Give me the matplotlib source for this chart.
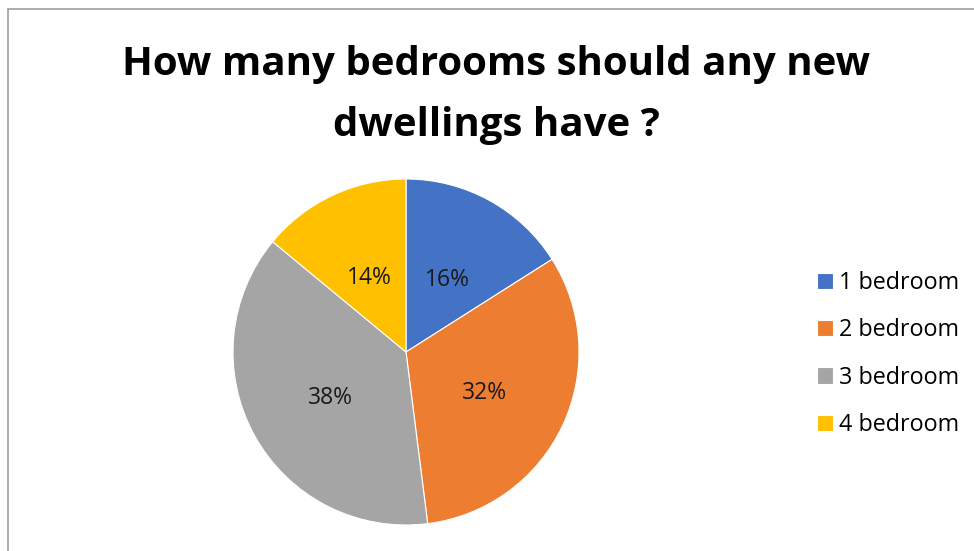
import matplotlib
matplotlib.use('Agg')
import matplotlib.pyplot as plt
from matplotlib.patches import Rectangle
from matplotlib.transforms import offset_copy

# Data
labels = ['1 bedroom', '2 bedroom', '3 bedroom', '4 bedroom']
shares = [16, 32, 38, 14]
colors = ['#4472C4', '#ED7D31', '#A5A5A5', '#FFC000']
title = 'How many bedrooms should any new\ndwellings have ?'

plt.rcParams['font.family'] = ['Open Sans', 'DejaVu Sans']

W, H = 974, 551
fig = plt.figure(figsize=(W / 100, H / 100), dpi=100)

# chart border (only left and top edges visible in the reference)
fig.patches.append(Rectangle((8 / W, -0.1), 1.2, 1 - 9 / H + 0.1,
                             transform=fig.transFigure, fill=False,
                             edgecolor='#A0A0A0', linewidth=1.2))

# pie axes: centre (406, 352), radius 173 px
cx, cy, r = 406, 352, 173
ax = fig.add_axes([(cx - r) / W, (H - cy - r) / H, 2 * r / W, 2 * r / H])
wedges, texts, autotexts = ax.pie(
    shares, colors=colors, startangle=90, counterclock=False,
    autopct='%1.0f%%', pctdistance=0.5,
    wedgeprops=dict(edgecolor='white', linewidth=0.8),
    textprops=dict(fontsize=16.5, color='#1a1a1a'))
ax.set_xlim(-1, 1)
ax.set_ylim(-1, 1)
ax.set_aspect('equal')
# nudge percentage labels down a little to sit like the original
for t in autotexts:
    t.set_transform(offset_copy(ax.transData, fig=fig, x=0, y=-4, units='dots'))

fig.text(0.5 * (123 + 870) / W, 1 - 95 / H, title, ha='center', va='center',
         fontsize=29, fontweight='bold', linespacing=1.72)

leg = fig.legend(wedges, labels, loc='center left',
                 bbox_to_anchor=(796 / W, 1 - 354 / H), frameon=False,
                 fontsize=16.8, handlelength=0.7, handleheight=0.7,
                 handletextpad=0.25, labelspacing=1.0)

fig.savefig('out.png', dpi=100)
